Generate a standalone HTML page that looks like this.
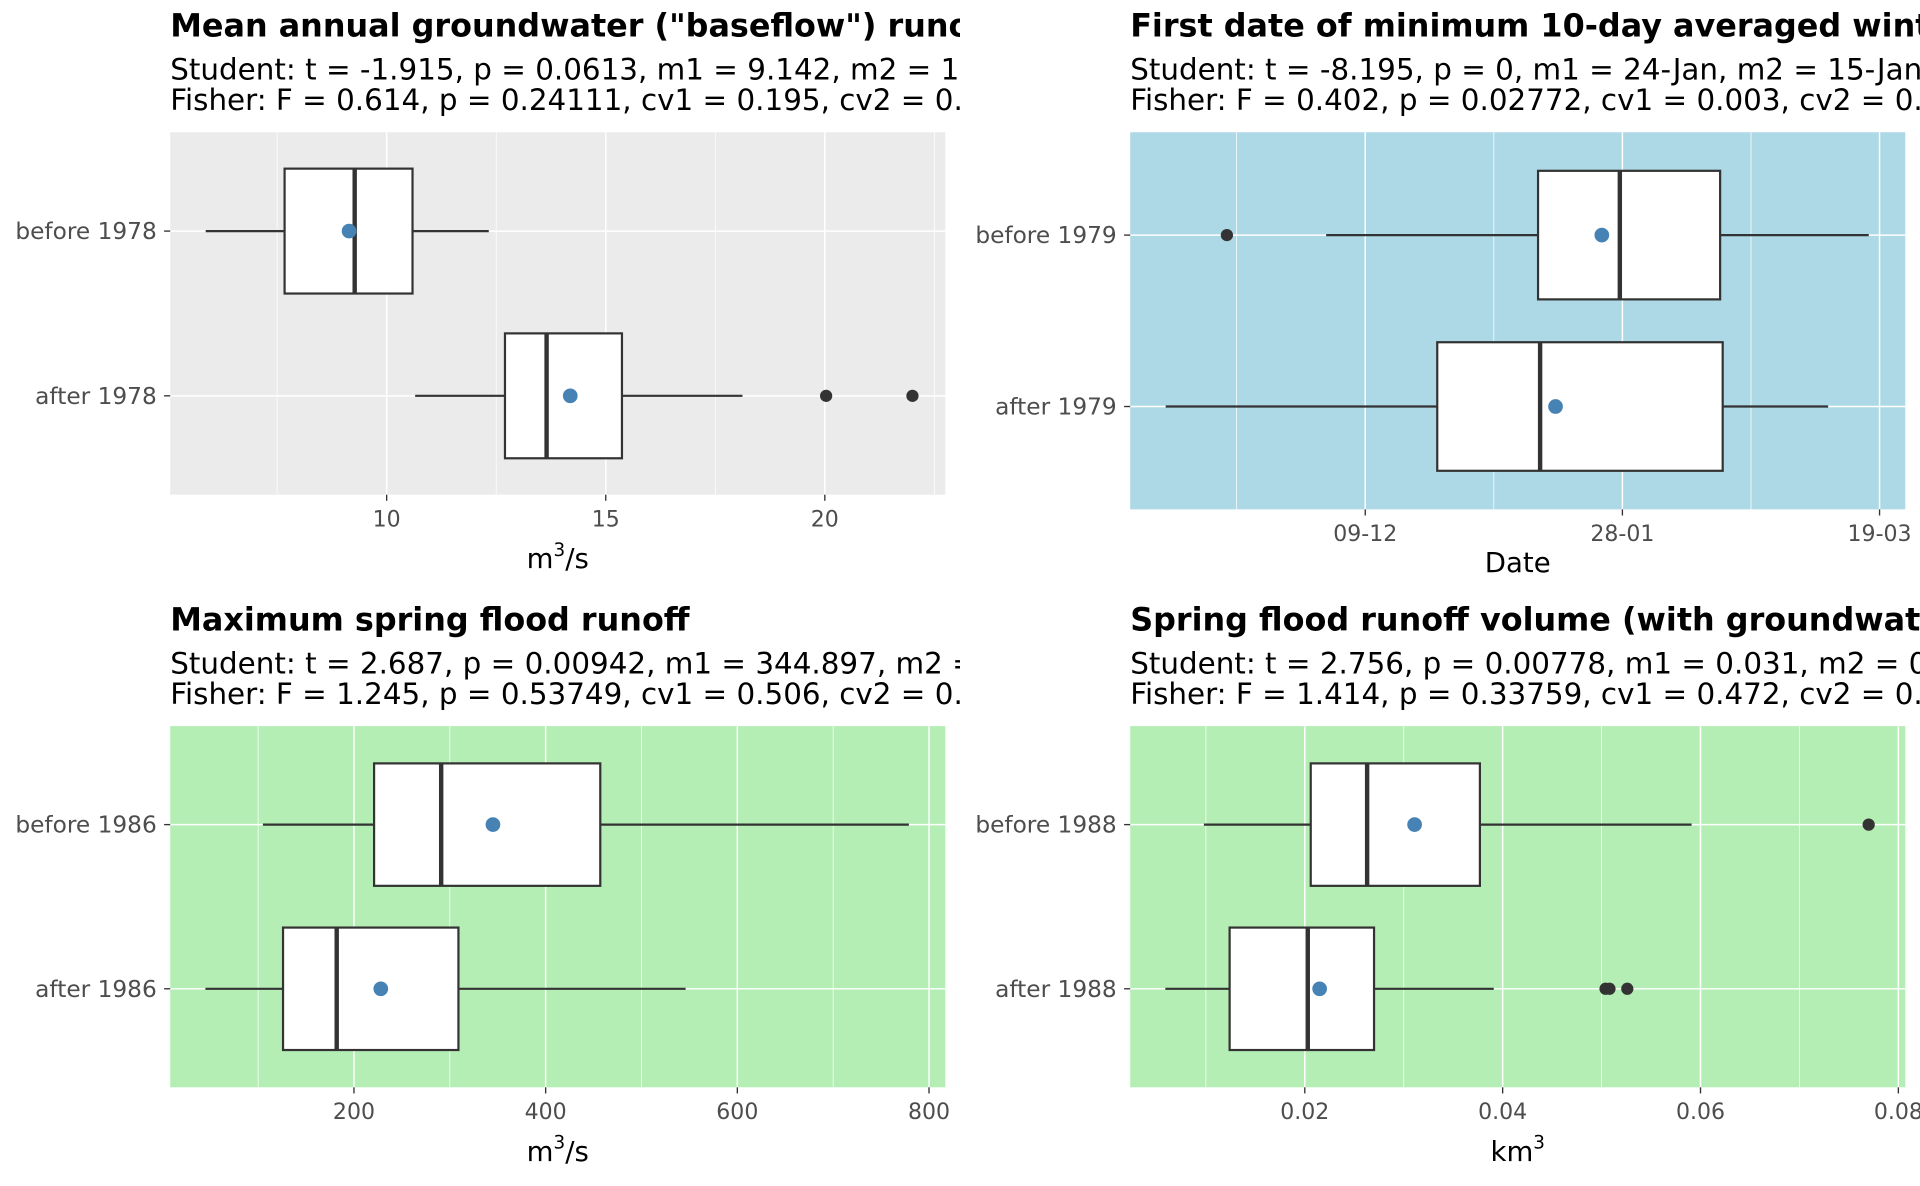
<!DOCTYPE html>
<html><head><meta charset="utf-8"><style>
html,body{margin:0;padding:0;background:#fff;}
svg{display:block;font-family:"DejaVu Sans","Liberation Sans",sans-serif;}
</style></head><body>
<svg id="fig" width="1920" height="1186" viewBox="0 0 1568 968.6" xmlns="http://www.w3.org/2000/svg"></svg>
<script>
// Panel 1: mean annual baseflow (m3/s)
const p1Groups = ["before 1978", "after 1978"];
const p1Stats = [[5.87, 7.67, 9.27, 10.59, 12.33], [10.65, 12.70, 13.65, 15.37, 18.12]];
const p1Means = [9.142, 14.19];
const p1Outliers = [[], [20.03, 22.0]];
const p1Ticks = [10, 15, 20];
const p1TickLabels = ["10", "15", "20"];
// Panel 2: first date of minimum (days since 09-Dec)
const p2Groups = ["before 1979", "after 1979"];
const p2Stats = [[-7.6, 33.6, 49.5, 69, 97.9], [-38.8, 14, 34, 69.5, 90]];
const p2Means = [46, 37];
const p2Outliers = [[-26.9], []];
const p2Ticks = [0, 50, 100];
const p2TickLabels = ["09-12", "28-01", "19-03"];
// Panel 3: max spring flood runoff
const p3Groups = ["before 1986", "after 1986"];
const p3Stats = [[105, 221, 291, 457, 779], [45, 126, 182, 309, 546]];
const p3Means = [345, 228];
const p3Outliers = [[], []];
const p3Ticks = [200, 400, 600, 800];
const p3TickLabels = ["200", "400", "600", "800"];
// Panel 4: spring flood volume (km3)
const p4Groups = ["before 1988", "after 1988"];
const p4Stats = [[0.0098, 0.0206, 0.0263, 0.0377, 0.0591], [0.0059, 0.0124, 0.0203, 0.027, 0.0391]];
const p4Means = [0.0311, 0.0215];
const p4Outliers = [[0.077], [0.0504, 0.0508, 0.0526]];
const p4Ticks = [0.02, 0.04, 0.06, 0.08];
const p4TickLabels = ["0.02", "0.04", "0.06", "0.08"];

const NS = "http://www.w3.org/2000/svg";
const svg = document.getElementById("fig");
function mk(tag, attrs, parent) {
  const e = document.createElementNS(NS, tag);
  for (const k in attrs) e.setAttribute(k, attrs[k]);
  (parent || svg).appendChild(e);
  return e;
}

const panels = [
  {id:"p1", x0:0, px:139, pw:633, py:108, ph:296, bg:"#ebebeb", dom:[5.06,22.75],
   groups:p1Groups, stats:p1Stats, means:p1Means, outs:p1Outliers, ticks:p1Ticks, tl:p1TickLabels,
   title:'Mean annual groundwater ("baseflow") runoff',
   s1:"Student: t = -1.915, p = 0.0613, m1 = 9.142, m2 = 14.19",
   s2:"Fisher: F = 0.614, p = 0.24111, cv1 = 0.195, cv2 = 0.21", xt:"m3/s", bh:102},
  {id:"p2", x0:784, px:923, pw:633, py:108, ph:308, bg:"#add8e6", dom:[-45.7,105],
   groups:p2Groups, stats:p2Stats, means:p2Means, outs:p2Outliers, ticks:p2Ticks, tl:p2TickLabels,
   title:"First date of minimum 10-day averaged winter runoff",
   s1:"Student: t = -8.195, p = 0, m1 = 24-Jan, m2 = 15-Jan",
   s2:"Fisher: F = 0.402, p = 0.02772, cv1 = 0.003, cv2 = 0.005", xt:"Date", bh:105},
  {id:"p3", x0:0, px:139, pw:633, py:593, ph:295, bg:"#b4eeb4", dom:[8.3,817],
   groups:p3Groups, stats:p3Stats, means:p3Means, outs:p3Outliers, ticks:p3Ticks, tl:p3TickLabels,
   title:"Maximum spring flood runoff",
   s1:"Student: t = 2.687, p = 0.00942, m1 = 344.897, m2 = 228",
   s2:"Fisher: F = 1.245, p = 0.53749, cv1 = 0.506, cv2 = 0.5", xt:"m3/s", bh:100},
  {id:"p4", x0:784, px:923, pw:633, py:593, ph:295, bg:"#b4eeb4", dom:[0.00235,0.0807],
   groups:p4Groups, stats:p4Stats, means:p4Means, outs:p4Outliers, ticks:p4Ticks, tl:p4TickLabels,
   title:"Spring flood runoff volume (with groundwater)",
   s1:"Student: t = 2.756, p = 0.00778, m1 = 0.031, m2 = 0.021",
   s2:"Fisher: F = 1.414, p = 0.33759, cv1 = 0.472, cv2 = 0.5", xt:"km3", bh:100}
];

panels.forEach((P, pi) => {
  const clip = mk("clipPath", {id:"clip"+pi});
  mk("rect", {x:P.x0, y:P.py-110, width:784, height:480}, clip);
  const g = mk("g", {"clip-path":"url(#clip"+pi+")"});
  
  
  const sx = v => P.px + (v - P.dom[0]) / (P.dom[1] - P.dom[0]) * P.pw;
  const step = P.ph / 2.2;
  const rowY = [P.py + 0.6*step, P.py + 1.6*step];

  const t = mk("text", {x:P.px, y:P.py-78, "font-size":26, "font-weight":"bold", fill:"#000"}, g);
  t.textContent = P.title;
  
  
  const s1 = mk("text", {x:P.px, y:P.py-43, "font-size":24, fill:"#000"}, g);
  s1.textContent = P.s1;
  
  
  const s2 = mk("text", {x:P.px, y:P.py-18, "font-size":24, fill:"#000"}, g);
  s2.textContent = P.s2;
  
  

  const bg = mk("rect", {x:P.px, y:P.py, width:P.pw, height:P.ph, fill:P.bg}, g);
  
  
  const tstep = P.ticks[1] - P.ticks[0];
  for (let v = P.ticks[0] - tstep*3.5; v <= P.dom[1]; v += tstep) {
    if (v < P.dom[0]) continue;
    const l = mk("line", {x1:sx(v), x2:sx(v), y1:P.py, y2:P.py+P.ph, stroke:"#fff", "stroke-width":0.6}, g);
    
    
  }
  P.ticks.forEach((v, i) => {
    const l = mk("line", {x1:sx(v), x2:sx(v), y1:P.py, y2:P.py+P.ph, stroke:"#fff", "stroke-width":1.2}, g);
    
    
    mk("line", {x1:sx(v), x2:sx(v), y1:P.py+P.ph, y2:P.py+P.ph+5, stroke:"#333", "stroke-width":1.1}, g);
    const tx = mk("text", {x:sx(v), y:P.py+P.ph+26, "font-size":18, fill:"#4d4d4d", "text-anchor":"middle"}, g);
    tx.textContent = P.tl[i];
    
    
  });
  rowY.forEach((y, i) => {
    const l = mk("line", {x1:P.px, x2:P.px+P.pw, y1:y, y2:y, stroke:"#fff", "stroke-width":1.2}, g);
    
    
    mk("line", {x1:P.px-5, x2:P.px, y1:y, y2:y, stroke:"#333", "stroke-width":1.1}, g);
    const tx = mk("text", {x:P.px-11, y:y+6.5, "font-size":19, fill:"#4d4d4d", "text-anchor":"end"}, g);
    tx.textContent = P.groups[i];
    
    

    const st = P.stats[i];
    const bx = mk("g", {}, g);
    
    
    mk("line", {x1:sx(st[0]), x2:sx(st[1]), y1:y, y2:y, stroke:"#333", "stroke-width":1.8}, bx);
    mk("line", {x1:sx(st[3]), x2:sx(st[4]), y1:y, y2:y, stroke:"#333", "stroke-width":1.8}, bx);
    mk("rect", {x:sx(st[1]), y:y-P.bh/2, width:sx(st[3])-sx(st[1]), height:P.bh, fill:"#fff", stroke:"#333", "stroke-width":1.8}, bx);
    mk("line", {x1:sx(st[2]), x2:sx(st[2]), y1:y-P.bh/2, y2:y+P.bh/2, stroke:"#333", "stroke-width":3.6}, bx);
    P.outs[i].forEach(o => {
      const c = mk("circle", {cx:sx(o), cy:y, r:5, fill:"#333"}, g);
      
      
    });
    const m = mk("circle", {cx:sx(P.means[i]), cy:y, r:6, fill:"#4682b4"}, g);
    
    
  });
  const off = P.xt === "Date" ? 51 : 60;
  const xt = mk("text", {x:P.px+P.pw/2, y:P.py+P.ph+off, "font-size":22.5, fill:"#000", "text-anchor":"middle"}, g);
  
  
  if (P.xt === "m3/s") { xt.innerHTML = 'm<tspan dy="-10" font-size="15">3</tspan><tspan dy="10">/s</tspan>'; }
  else if (P.xt === "km3") { xt.innerHTML = 'km<tspan dy="-10" font-size="15">3</tspan>'; }
  else xt.textContent = P.xt;
});
</script>
</body></html>
